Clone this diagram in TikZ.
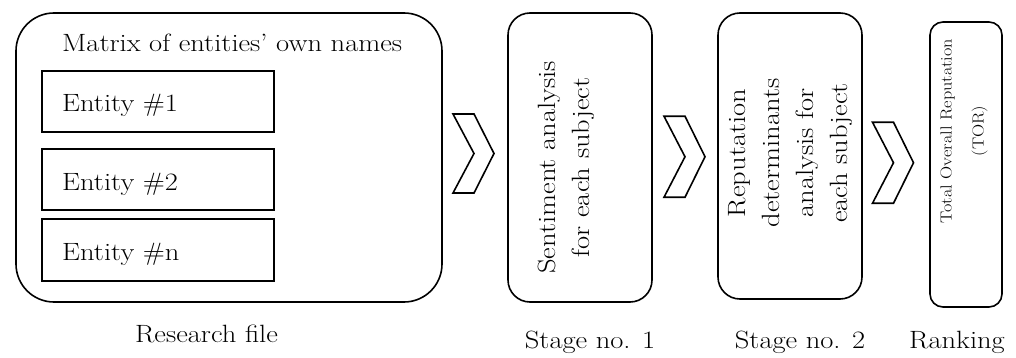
\documentclass[tikz,border=0pt]{standalone}
\usepackage{fontspec}
\setmainfont{Latin Modern Roman}[FakeStretch=1.14]
\usetikzlibrary{calc}
\begin{document}
\begin{tikzpicture}[x=1pt,y=-1pt,
  box/.style={draw, line width=1.6pt, inner sep=0pt},
  ebox/.style={draw, line width=1.1pt, minimum width=232pt, minimum height=61pt, inner sep=0pt},
  txt/.style={font=\fontsize{25}{30}\selectfont, inner sep=0pt},
  vtxt/.style={font=\fontsize{25}{34}\selectfont, inner sep=0pt, rotate=90, align=center},
  chev/.style={draw, line width=1.6pt, line join=miter}]
\useasboundingbox (0,0) rectangle (1016,358);
% boxes
\node[box, rounded corners=38pt, minimum width=426pt, minimum height=289pt] (big) at (229,157.5) {};
\node[box, rounded corners=22pt, minimum width=144pt, minimum height=289pt] (s1) at (580,157.5) {};
\node[box, rounded corners=22pt, minimum width=144pt, minimum height=286pt] (s2) at (790,156) {};
\node[box, rounded corners=13pt, minimum width=72pt, minimum height=285pt] (rk) at (966,164.5) {};
% entity boxes
\node[ebox] (e1) at (158,101.5) {};
\node[ebox] (e2) at (158,179.5) {};
\node[ebox, minimum height=62pt] (e3) at (158,250) {};
\node[txt, anchor=base west] (title) at (62,52) {Matrix of entities' own names};
\node[txt, anchor=base west] (t1) at (62,112) {Entity \#1};
\node[txt, anchor=base west] (t2) at (62,190) {Entity \#2};
\node[txt, anchor=base west] (t3) at (62,260) {Entity \#n};
% rotated texts
\node[vtxt] (s1t) at (566,167.5) {Sentiment analysis\\for each subject};
\node[vtxt] (s2t) at (790,153) {Reputation\\determinants\\analysis for\\each subject};
\node[vtxt, font=\fontsize{16}{32}\selectfont] (rkt) at (964,131) {Total Overall Reputation\\(TOR)};
% captions
\node[txt, anchor=base] (c0) at (206.5,342) {Research file};
\node[txt, anchor=base] (c1) at (590,348) {Stage no. 1};
\node[txt, anchor=base] (c2) at (800,348) {Stage no. 2};
\node[txt, anchor=base] (c3) at (957,348) {Ranking};
% chevrons
\coordinate (ch1) at ($(big.east)!0.5!(s1.west)+(-1.5,-4)$);
\coordinate (ch2) at ($(s1.east)!0.5!(s2.west)+(-0.5,0)$);
\coordinate (ch3) at ($(s2.east)!0.5!(rk.west)+(-3,2.5)$);
\foreach \c/\h in {ch1/79,ch2/81,ch3/81}{
  \draw[chev] ($(\c)+(-20.5,-\h/2)$) -- ++(21,0) -- ($(\c)+(20.5,0)$) -- ($(\c)+(0.5,\h/2)$) -- ++(-21,0) -- ($(\c)+(0.5,0)$) -- cycle;
}
\end{tikzpicture}
\end{document}
